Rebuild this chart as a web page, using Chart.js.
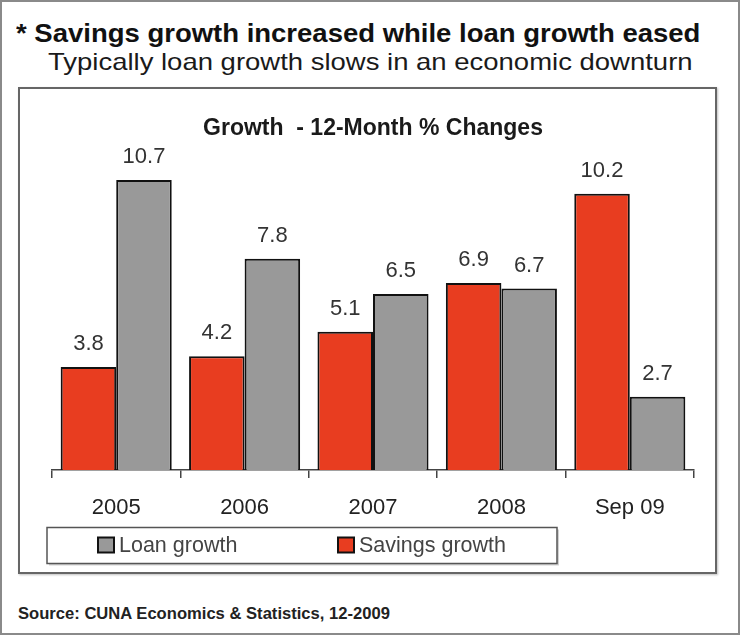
<!DOCTYPE html>
<html>
<head>
<meta charset="utf-8">
<script src="https://cdn.jsdelivr.net/npm/chart.js@4.4.1/dist/chart.umd.min.js"></script>
<style>
  html, body { margin:0; padding:0; background:#fff; }
  body { width:740px; height:635px; position:relative; overflow:hidden; font-family:"Liberation Sans", Arial, sans-serif; }
  #outer { position:absolute; left:0; top:0; width:740px; height:635px; box-sizing:border-box; border:2px solid #8a8a8a; }
  .t { position:absolute; white-space:nowrap; line-height:1; transform-origin:left top; }
  #title { left:16px; top:21px; font-size:25.5px; font-weight:bold; color:#111; transform:scaleX(1.078); }
  #subtitle { left:48px; top:49.5px; font-size:24px; color:#1a1a1a; transform:scaleX(1.145); }
  #source { left:18px; top:606px; font-size:16.6px; font-weight:bold; color:#222; }
  #frame { position:absolute; left:18px; top:87px; width:699px; height:487px; box-sizing:border-box; border:2px solid #666; box-shadow:1px 1px 2px rgba(0,0,0,0.25); }
  #wrap { position:absolute; left:20px; top:89px; width:695px; height:483px; }
</style>
</head>
<body>
<div id="outer"></div>
<div class="t" id="title">* Savings growth increased while loan growth eased</div>
<div class="t" id="subtitle">Typically loan growth slows in an economic downturn</div>
<div id="frame"></div>
<div id="wrap"><canvas id="c" width="695" height="483"></canvas></div>
<div class="t" id="source">Source: CUNA Economics &amp; Statistics, 12-2009</div>
<script>
const categories = ["2005", "2006", "2007", "2008", "Sep 09"];
const savingsGrowth = [3.8, 4.2, 5.1, 6.9, 10.2];
const loanGrowth = [10.7, 7.8, 6.5, 6.7, 2.7];
const seriesNames = ["Savings growth", "Loan growth"];
const chartTitle = "Growth  - 12-Month % Changes";

const RED = "#E83D20";
const GRAY = "#999999";

const valueLabels = {
  id: "valueLabels",
  afterDatasetsDraw(chart) {
    const ctx = chart.ctx;
    ctx.save();
    ctx.font = "22px 'Liberation Sans', Arial, sans-serif";
    ctx.fillStyle = "#333";
    ctx.textAlign = "center";
    ctx.textBaseline = "middle";
    chart.data.datasets.forEach((ds, i) => {
      const meta = chart.getDatasetMeta(i);
      meta.data.forEach((bar, j) => {
        ctx.fillText(Number(ds.data[j]).toFixed(1), bar.x, bar.y - 23);
      });
    });
    ctx.restore();
  }
};

const boxedLegend = {
  id: "boxedLegend",
  afterDraw(chart) {
    const ctx = chart.ctx;
    const left = chart.chartArea.left - 5;
    const top = chart.chartArea.bottom + 57.5;
    const w = 510, h = 36;
    ctx.save();
    ctx.fillStyle = "rgba(0,0,0,0.18)";
    ctx.fillRect(left + 2, top + 2, w, h);
    ctx.fillStyle = "#fff";
    ctx.fillRect(left, top, w, h);
    ctx.strokeStyle = "#555";
    ctx.lineWidth = 1.5;
    ctx.strokeRect(left, top, w, h);
    const order = [1, 0];
    ctx.font = "21.5px 'Liberation Sans', Arial, sans-serif";
    ctx.textBaseline = "middle";
    ctx.textAlign = "left";
    order.forEach((di, k) => {
      const ds = chart.data.datasets[di];
      const bx = left + 51 + k * 240;
      const by = top + 10;
      ctx.fillStyle = ds.backgroundColor;
      ctx.fillRect(bx, by, 16, 15);
      ctx.strokeStyle = "#111";
      ctx.lineWidth = 2;
      ctx.strokeRect(bx, by, 16, 15);
      ctx.fillStyle = "#444";
      ctx.fillText(ds.label, bx + 21, top + h / 2 + 1);
    });
    ctx.restore();
  }
};

new Chart(document.getElementById("c"), {
  type: "bar",
  data: {
    labels: categories,
    datasets: [
      { label: seriesNames[0], data: savingsGrowth, backgroundColor: RED, borderColor: "#111", borderWidth: 2, borderSkipped: "bottom" },
      { label: seriesNames[1], data: loanGrowth, backgroundColor: GRAY, borderColor: "#111", borderWidth: 2, borderSkipped: "bottom" }
    ]
  },
  options: {
    responsive: false,
    animation: false,
    devicePixelRatio: 1,
    layout: { padding: { left: 32, right: 21, top: 0, bottom: 34 } },
    datasets: { bar: { categoryPercentage: 0.865, barPercentage: 1 } },
    plugins: {
      legend: { display: false },
      tooltip: { enabled: false },
      title: {
        display: true,
        text: chartTitle,
        color: "#1a1a1a",
        font: { family: "'Liberation Sans', Arial, sans-serif", size: 23, weight: "bold", lineHeight: 1.2 },
        padding: { top: 26.2, bottom: 2.1 }
      }
    },
    scales: {
      x: {
        grid: { display: true, drawOnChartArea: false, drawTicks: true, tickLength: 8, color: "#444", lineWidth: 1.5, offset: true },
        border: { display: true, color: "#444", width: 1.5 },
        ticks: { color: "#222", font: { family: "'Liberation Sans', Arial, sans-serif", size: 22, lineHeight: 1.2 }, padding: 16.8, maxRotation: 0 }
      },
      y: { display: false, min: 0, max: 12 }
    }
  },
  plugins: [valueLabels, boxedLegend]
});
</script>
</body>
</html>
